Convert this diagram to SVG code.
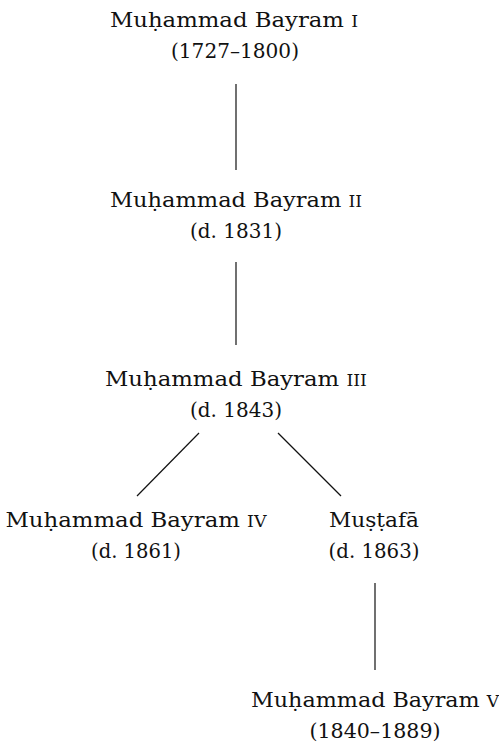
<svg xmlns="http://www.w3.org/2000/svg" width="499" height="752" viewBox="0 0 499 752">
<style>
text{font-family:'DejaVu Serif','Liberation Serif',serif;font-size:21px;fill:#111;text-anchor:middle}
.sc{font-size:16px}
.e{stroke:#111;stroke-width:1.2;fill:none}
</style>
<rect width="499" height="752" fill="#fff"/>
<g id="edges">
<line class="e" x1="236" y1="84" x2="236" y2="170"/>
<line class="e" x1="236" y1="262" x2="236" y2="345"/>
<line class="e" x1="199" y1="433" x2="137" y2="496"/>
<line class="e" x1="278" y1="433" x2="341" y2="496"/>
<line class="e" x1="375" y1="583" x2="375" y2="670"/>
</g>
<g id="n1">
<text x="234" y="27" textLength="248" lengthAdjust="spacingAndGlyphs">Muḥammad Bayram <tspan class="sc">I</tspan></text>
<text x="235" y="58" textLength="128" lengthAdjust="spacingAndGlyphs">(1727–1800)</text>
</g>
<g id="n2">
<text x="236" y="207" textLength="252" lengthAdjust="spacingAndGlyphs">Muḥammad Bayram <tspan class="sc">II</tspan></text>
<text x="236" y="238" textLength="92" lengthAdjust="spacingAndGlyphs">(d. 1831)</text>
</g>
<g id="n3">
<text x="236" y="386" textLength="262" lengthAdjust="spacingAndGlyphs">Muḥammad Bayram <tspan class="sc">III</tspan></text>
<text x="236" y="417" textLength="92" lengthAdjust="spacingAndGlyphs">(d. 1843)</text>
</g>
<g id="n4">
<text x="136" y="527" textLength="261" lengthAdjust="spacingAndGlyphs">Muḥammad Bayram <tspan class="sc">IV</tspan></text>
<text x="136" y="558" textLength="90" lengthAdjust="spacingAndGlyphs">(d. 1861)</text>
</g>
<g id="n5">
<text x="374" y="527" textLength="90" lengthAdjust="spacingAndGlyphs">Muṣṭafā</text>
<text x="374" y="558" textLength="91" lengthAdjust="spacingAndGlyphs">(d. 1863)</text>
</g>
<g id="n6">
<text x="375" y="707" textLength="248" lengthAdjust="spacingAndGlyphs">Muḥammad Bayram <tspan class="sc">V</tspan></text>
<text x="375" y="738" textLength="131" lengthAdjust="spacingAndGlyphs">(1840–1889)</text>
</g>
</svg>
